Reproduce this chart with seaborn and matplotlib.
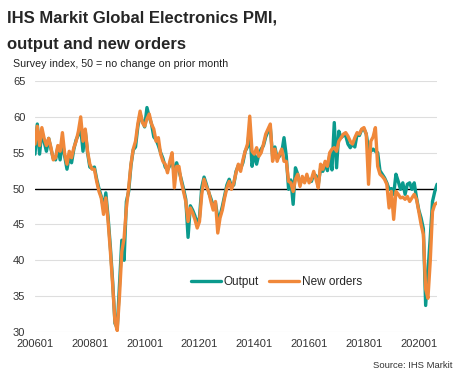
import numpy as np
import matplotlib.pyplot as plt
import pandas as pd
import seaborn as sns

# Monthly survey readings, Jan 2006 onwards
output = [54.8, 59.0, 54.8, 58.0, 56.5, 55.2, 57.0, 55.5, 54.2, 54.0, 55.8, 54.0,
          56.5, 54.5, 52.7, 54.5, 53.6, 55.5, 56.8, 57.5, 58.5, 55.2, 58.0, 55.0,
          53.0, 52.8, 53.0, 51.3, 50.0, 48.9, 47.2, 49.4, 46.0, 41.8, 37.0, 31.2,
          30.6, 36.8, 42.8, 40.0, 48.2, 49.6, 53.2, 55.4, 55.8, 58.6, 60.4, 59.4,
          58.6, 61.3, 60.0, 59.0, 57.2, 56.8, 56.0, 55.0, 54.2, 53.0, 52.6, 53.2,
          54.0, 52.0, 53.6, 52.5, 51.3, 50.0, 48.5, 43.2, 47.6, 47.0, 46.2, 45.0,
          46.0, 50.2, 51.6, 50.6, 49.5, 48.6, 47.6, 48.0, 45.9, 46.2, 47.5, 49.0,
          50.5, 51.3, 50.3, 50.5, 52.4, 53.2, 52.8, 53.6, 55.2, 55.8, 58.5, 53.1,
          55.0, 53.4, 54.8, 55.5, 56.0, 57.2, 58.0, 58.5, 54.5, 55.8, 54.2, 54.5,
          55.0, 57.1, 54.5, 49.9, 51.2, 47.8, 52.9, 52.0, 50.6, 51.4, 51.0, 51.6,
          51.2, 51.0, 52.0, 51.8, 50.6, 52.8, 52.4, 53.5, 52.5, 54.6, 52.6, 59.2,
          52.9, 58.0, 57.1, 57.4, 57.4, 56.2, 55.7, 56.2, 55.8, 57.6, 57.4, 58.2,
          58.3, 57.6, 55.5, 55.2, 55.5, 55.2, 55.0, 52.5, 52.0, 51.5, 50.8, 49.9,
          50.0, 49.2, 52.0, 51.0, 49.9, 50.8, 49.2, 50.6, 50.8, 49.9, 50.8, 48.7,
          47.0, 45.9, 44.4, 33.7, 38.4, 43.1, 48.2, 49.6, 50.6]
new_orders = [56.2, 58.7, 56.0, 58.5, 57.0, 56.0, 57.0, 55.7, 54.0, 54.3, 56.0, 55.2,
              57.8, 54.8, 53.4, 55.2, 54.3, 55.7, 56.6, 58.0, 60.0, 56.6, 58.3, 55.2,
              53.4, 52.7, 52.7, 51.0, 49.6, 48.7, 46.4, 48.7, 45.4, 41.2, 36.5, 31.4,
              30.2, 35.1, 41.2, 43.1, 47.3, 50.1, 53.4, 55.5, 56.6, 59.0, 60.8, 59.2,
              58.7, 59.7, 60.4, 59.0, 58.3, 56.6, 57.1, 54.8, 53.8, 53.4, 52.2, 53.8,
              55.0, 50.1, 53.1, 53.1, 51.0, 49.6, 48.2, 45.4, 47.3, 46.6, 45.7, 44.5,
              45.4, 49.2, 51.3, 50.3, 49.6, 48.2, 47.0, 48.2, 43.8, 45.9, 47.0, 48.7,
              50.1, 51.0, 49.9, 50.8, 52.2, 53.4, 52.4, 54.0, 55.2, 56.2, 60.1, 55.2,
              54.8, 55.7, 54.5, 55.0, 56.2, 57.6, 58.3, 59.0, 53.8, 55.5, 53.8, 54.8,
              55.5, 53.8, 53.8, 51.0, 50.8, 49.6, 51.3, 52.0, 50.3, 51.7, 50.8, 52.0,
              50.8, 51.3, 52.4, 51.3, 50.1, 53.4, 52.7, 53.8, 53.1, 55.0, 55.5, 55.7,
              55.2, 56.6, 57.1, 57.6, 57.8, 57.3, 56.6, 56.2, 57.1, 57.8, 57.6, 58.3,
              58.5, 57.6, 50.6, 56.6, 57.2, 58.5, 53.1, 52.0, 51.7, 51.3, 50.6, 47.3,
              49.6, 45.7, 49.6, 49.2, 48.7, 48.8, 48.5, 48.9, 48.2, 48.7, 49.2, 48.5,
              46.8, 45.0, 43.6, 36.0, 34.7, 39.8, 46.8, 47.8, 48.0]

months = pd.period_range('2006-01', periods=len(output), freq='M')
tick_pos = list(range(0, len(output), 24))
tick_labels = [months[i].strftime('%Y%m') for i in tick_pos]
y_ticks = [30, 35, 40, 45, 50, 55, 60, 65]

df = pd.DataFrame({'month': np.arange(len(output)),
                   'Output': output, 'New orders': new_orders})
df = df.melt(id_vars='month', var_name='series', value_name='index')

sns.set_theme(style='white')
plt.rcParams['font.family'] = ['Liberation Sans', 'DejaVu Sans']

fig = plt.figure(figsize=(4.63, 3.75), dpi=100)
ax = fig.add_axes([0.0756, 0.1147, 0.8684, 0.6693])

for y in y_ticks:
    if y != 50:
        ax.axhline(y, color='#dedede', lw=0.8, zorder=0)
ax.axhline(50, color='black', lw=1.0, zorder=1)

sns.lineplot(data=df, x='month', y='index', hue='series',
             hue_order=['Output', 'New orders'],
             palette=['#0b9a8d', '#f0883a'], linewidth=2.4, ax=ax, zorder=3)

ax.set_xlim(0, len(output) - 1)
ax.set_ylim(30, 65)
ax.set_xticks(tick_pos)
ax.set_xticklabels(tick_labels)
ax.set_yticks(y_ticks)
ax.tick_params(axis='both', length=0, labelsize=8, colors='#333333')
ax.tick_params(axis='x', pad=5)
ax.tick_params(axis='y', pad=7)
ax.set_xlabel('')
ax.set_ylabel('')
for s in ax.spines.values():
    s.set_visible(False)

leg = ax.legend(loc='center', bbox_to_anchor=(0.60, 0.20), ncol=2, frameon=False,
                fontsize=8.5, handlelength=2.6, handletextpad=0.2, columnspacing=0.8)
for line in leg.get_lines():
    line.set_linewidth(2.4)

fig.text(0.015, 0.953, 'IHS Markit Global Electronics PMI,', fontsize=12,
         fontweight='bold', va='center', ha='left')
fig.text(0.015, 0.882, 'output and new orders', fontsize=12,
         fontweight='bold', va='center', ha='left')
fig.text(0.028, 0.829, 'Survey index, 50 = no change on prior month', fontsize=7.7,
         va='center', ha='left', color='#222222')
fig.text(0.978, 0.024, 'Source: IHS Markit', fontsize=6.8, va='center',
         ha='right', color='#333333')

fig.savefig('out.png', dpi=100)
